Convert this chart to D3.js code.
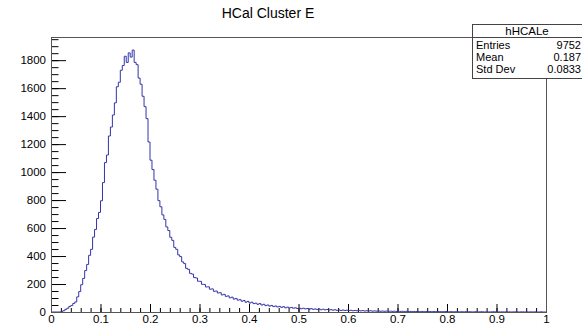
<!DOCTYPE html>
<html>
<head>
<meta charset="utf-8">
<script src="https://cdn.jsdelivr.net/npm/d3@7"></script>
<style>
  body { margin: 0; background: #fff; }
  svg { display: block; font-family: "Liberation Sans", Arial, sans-serif; }
  .axis path { stroke: none; }
  .axis line { stroke: #000; stroke-width: 1; }
  .axis text { font-size: 11.5px; fill: #000; }
</style>
</head>
<body>
<div id="chart"></div>
<script>
// histogram of hHCALe, 250 bins from 0 to 1 (counts)
var binLow = 0, binHigh = 1;
var counts = [
  0,0,0,0,0,4,9,19,27,40,
  46,61,72,108,146,195,240,296,340,405,
  448,535,590,668,712,795,925,1068,1122,1258,
  1322,1408,1495,1610,1642,1728,1762,1828,1784,1852,
  1822,1872,1784,1768,1672,1628,1542,1468,1382,1215,
  1085,1018,942,878,796,752,694,662,608,582,
  534,512,462,448,408,396,358,346,312,305,
  276,271,246,243,220,219,198,197,179,180,
  163,165,148,150,136,138,122,126,112,115,
  101,106,92,97,85,88,77,82,70,76,
  64,70,60,63,55,60,50,55,46,50,
  42,47,39,43,36,40,33,38,30,35,
  29,33,27,30,25,28,23,27,22,25,
  20,24,19,22,18,21,16,20,15,18,
  14,17,13,16,12,15,11,14,11,13,
  10,12,9,11,9,11,8,10,7,9,
  7,9,6,8,6,8,5,7,5,7,
  5,6,4,6,4,5,4,5,3,5,
  3,4,3,4,3,4,2,4,2,3,
  2,3,2,3,2,3,2,2,2,3,
  1,2,2,1,2,2,1,2,1,2,
  1,2,1,1,2,1,1,2,1,1,
  1,1,1,2,1,1,1,1,1,1,
  1,1,0,1,1,1,0,1,1,0,
  1,0,1,0,1,0,0,1,0,0
];
var xTicks = [0, 0.1, 0.2, 0.3, 0.4, 0.5, 0.6, 0.7, 0.8, 0.9, 1];
var yTicks = [0, 200, 400, 600, 800, 1000, 1200, 1400, 1600, 1800];
var statNames = ["Entries", "Mean", "Std Dev"];
var statValues = ["9752", "0.187", "0.0833"];

var W = 582, H = 327;
var margin = { top: 37, right: 36, bottom: 15, left: 51 },
    width = W - margin.left - margin.right,
    height = H - margin.top - margin.bottom;

var svg = d3.select("#chart").append("svg")
    .attr("width", W)
    .attr("height", H);

svg.append("rect").attr("width", W).attr("height", H).attr("fill", "#fff");

var g = svg.append("g")
    .attr("transform", "translate(" + margin.left + "," + margin.top + ")");

var nb = counts.length;
var bw = (binHigh - binLow) / nb;
var yMax = d3.max(counts) * 1.05;

var x = d3.scaleLinear().domain([binLow, binHigh]).range([0, width]);
var y = d3.scaleLinear().domain([0, yMax]).range([height, 0]);

// minor ticks first
g.append("g")
    .attr("class", "axis")
    .attr("transform", "translate(0," + height + ")")
    .call(d3.axisBottom(x).tickValues(d3.range(0, 50).map(function (i) { return i * 0.02; }))
        .tickSize(-4).tickFormat(""));
g.append("g")
    .attr("class", "axis")
    .call(d3.axisLeft(y).tickValues(d3.range(0, 40).map(function (i) { return i * 50; }).filter(function (v) { return v <= yMax; }))
        .tickSize(-7.5).tickFormat(""));

// major ticks + labels
g.append("g")
    .attr("class", "axis")
    .attr("transform", "translate(0," + height + ")")
    .call(d3.axisBottom(x).tickValues(xTicks).tickSize(-8).tickPadding(3)
        .tickFormat(function (d) { return String(+d.toFixed(1)); }));
g.append("g")
    .attr("class", "axis")
    .call(d3.axisLeft(y).tickValues(yTicks).tickSize(-15).tickPadding(5)
        .tickFormat(d3.format("d")));

// histogram outline
var pts = [[binLow, 0]];
counts.forEach(function (c, i) { pts.push([binLow + i * bw, c]); });
pts.push([binHigh, counts[nb - 1]]);

var line = d3.line()
    .x(function (d) { return x(d[0]); })
    .y(function (d) { return y(d[1]); })
    .curve(d3.curveStepAfter);

g.append("path")
    .datum(pts)
    .attr("fill", "none")
    .attr("stroke", "#3434a8")
    .attr("stroke-width", 1)
    .attr("d", line);

// frame
g.append("rect")
    .attr("x", 0.5).attr("y", 0.5)
    .attr("width", width).attr("height", height)
    .attr("fill", "none").attr("stroke", "#555").attr("stroke-width", 1);

// title
svg.append("text")
    .attr("x", 268).attr("y", 18)
    .attr("text-anchor", "middle")
    .style("font-size", "14px")
    .text("HCal Cluster E");

// stats box
var sb = svg.append("g");
sb.append("rect")
    .attr("x", 472.5).attr("y", 24.5)
    .attr("width", 120).attr("height", 54)
    .attr("fill", "#fff").attr("stroke", "#444");
sb.append("line")
    .attr("x1", 472.5).attr("x2", 582).attr("y1", 37.5).attr("y2", 37.5)
    .attr("stroke", "#444");
sb.append("text")
    .attr("x", 527).attr("y", 35)
    .attr("text-anchor", "middle")
    .style("font-size", "11.5px")
    .text("hHCALe");
statNames.forEach(function (s, i) {
    sb.append("text")
        .attr("x", 476).attr("y", 49 + i * 12)
        .style("font-size", "11px")
        .text(s);
    sb.append("text")
        .attr("x", 581).attr("y", 49 + i * 12)
        .attr("text-anchor", "end")
        .style("font-size", "11px")
        .text(statValues[i]);
});
</script>
</body>
</html>
